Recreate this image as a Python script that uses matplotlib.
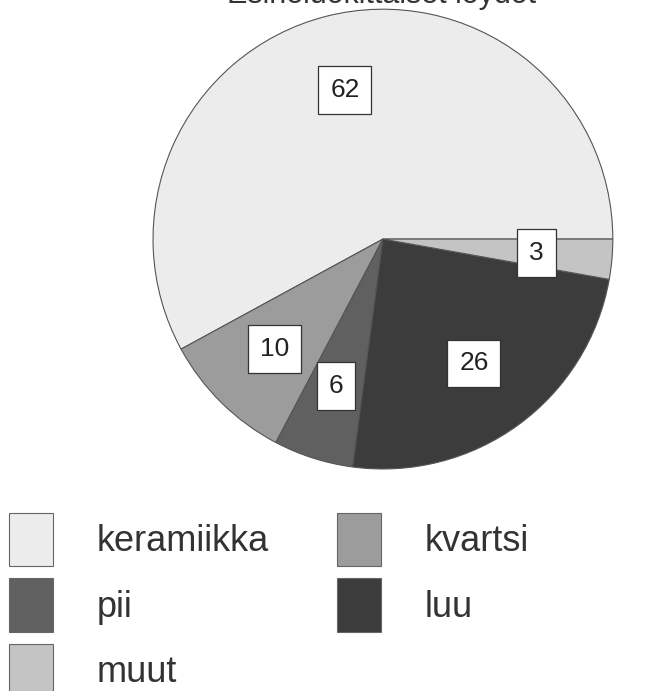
import matplotlib.pyplot as plt
from matplotlib.patches import Patch

plt.rcParams['font.family'] = ['Liberation Sans', 'DejaVu Sans']

# slices, counter-clockwise from 3 o'clock
categories = ["keramiikka", "kvartsi", "pii", "luu", "muut"]
counts = [62, 10, 6, 26, 3]
colors = ["#ececec", "#9c9c9c", "#606060", "#3c3c3c", "#c4c4c4"]
title = "Esineluokittaiset löydöt"

total = sum(counts)

fig = plt.figure(figsize=(6.54, 6.91), dpi=100)
fig.patch.set_facecolor("white")

# pie axes: centre ~ (383, 239) px, radius ~230 px
ax = fig.add_axes([0.234, 0.321, 0.703, 0.666])
wedges, _, autotexts = ax.pie(
    counts, colors=colors, startangle=0, counterclock=True,
    autopct=lambda p: f"{round(p * total / 100):d}", pctdistance=0.67,
    wedgeprops=dict(edgecolor="#555555", linewidth=0.8),
    textprops=dict(fontsize=19, color="#222222"))
for t in autotexts:
    t.set_bbox(dict(boxstyle="square,pad=0.45", facecolor="white",
                    edgecolor="#333333", linewidth=0.9))
ax.set_xlim(-1.0, 1.0)
ax.set_ylim(-1.0, 1.0)
ax.set_aspect("equal")

# title is clipped at the top of the image
fig.text(0.583, 1 - 3 / 691, title, ha="center", va="baseline",
         fontsize=22, color="#333333")

# legend, column-wise: keramiikka, pii, muut | kvartsi, luu
order = [0, 2, 4, 1, 3]
handles = [Patch(facecolor=colors[i], edgecolor="#666666", linewidth=0.8) for i in order]
labels = [categories[i] for i in order]
fig.legend(handles, labels, ncol=2, loc="upper left",
           bbox_to_anchor=(9 / 654, 1 - 513 / 691), frameon=False,
           fontsize=26, labelcolor="#333333",
           handlelength=1.22, handleheight=1.9, handletextpad=1.2,
           columnspacing=1.9, labelspacing=0.33, borderpad=0, borderaxespad=0)

fig.savefig("out.png", dpi=100, facecolor="white")
